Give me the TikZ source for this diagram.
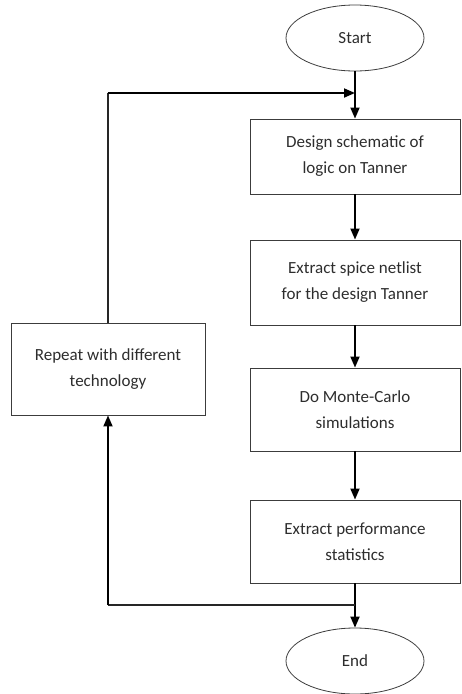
\documentclass[tikz,border=0pt]{standalone}
\usepackage{fontspec}
\setmainfont{Carlito}
\usetikzlibrary{arrows.meta,shapes.geometric}
\definecolor{boxline}{RGB}{60,60,60}
\definecolor{txtgray}{RGB}{45,45,45}
\tikzset{
    lab/.style={
        font=\fontsize{17}{26}\selectfont, text=txtgray
    }
}

\begin{document}
\begin{tikzpicture}[x=1pt,y=-1pt, line cap=butt, line join=miter]

% box + connector styles
\tikzset{
  stepbox/.style={lab, draw=boxline, line width=0.9pt, minimum width=210pt, align=center, inner sep=0pt},
  term/.style={lab, ellipse, draw=boxline, line width=0.8pt, minimum width=138pt, minimum height=66pt, inner sep=0pt},
  flow/.style={draw=black, line width=1.8pt, -{Triangle[length=11pt,width=9pt]}},
  back/.style={draw=black!85, line width=1.1pt},
}

  \useasboundingbox (0,0) rectangle (461,694);

  % nodes
  \node[term] (start) at (355,38) {Start};
  \node[stepbox, minimum height=75pt] (design) at (355,156.5) {Design schematic of\\logic on Tanner};
  \node[stepbox, minimum height=85pt] (netlist) at (355,282.5) {Extract spice netlist\\for the design Tanner};
  \node[stepbox, minimum height=83pt] (mc) at (355,409.5) {Do Monte-Carlo\\simulations};
  \node[stepbox, minimum height=83pt] (stats) at (355,541.5) {Extract performance\\statistics};
  \node[term] (stop) at (355,661) {End};
  \node[stepbox, minimum width=194pt, minimum height=92pt] (repeat) at (108,369) {Repeat with different\\technology};

  % corner points of the loop back
  \coordinate (top) at (355,93);
  \coordinate (topleft) at (108,93);
  \coordinate (join) at (355,605);
  \coordinate (joinleft) at (108,605);

  % main flow
  \draw[flow] (start) -- (design);
  \draw[flow] (design) -- (netlist);
  \draw[flow] (netlist) -- (mc);
  \draw[flow] (mc) -- (stats);
  \draw[flow] (stats) -- (stop);

  % loop back
  \draw[back] (join) -- (joinleft);
  \draw[flow] (joinleft) -- (repeat);
  \draw[back] (repeat) -- (topleft);
  \draw[flow] ([xshift=-0.5pt]topleft) -- (top);

\end{tikzpicture}
\end{document}
